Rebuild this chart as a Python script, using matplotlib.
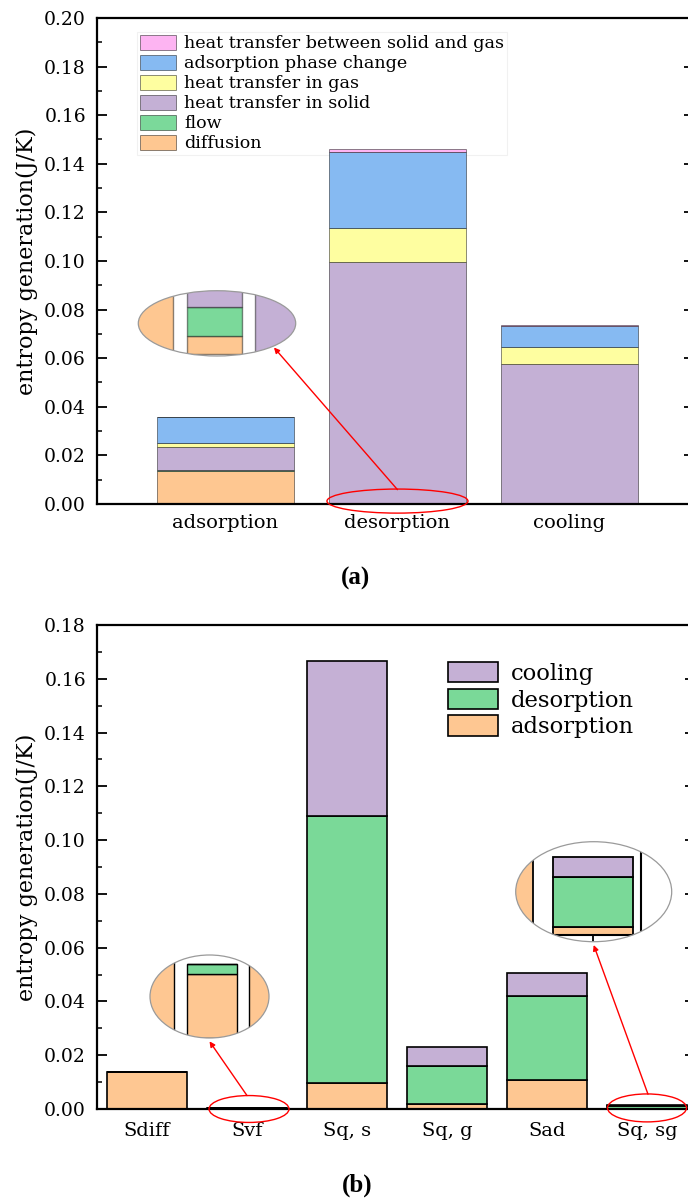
import numpy as np
import matplotlib
matplotlib.use('Agg')
import matplotlib.pyplot as plt
from matplotlib.patches import Ellipse, ConnectionPatch
from matplotlib.ticker import MultipleLocator, FormatStrFormatter

plt.rcParams['font.family'] = ['DejaVu Serif']

# ---- data (J/K) ----
stages = ['adsorption', 'desorption', 'cooling']
components = ['diffusion', 'flow', 'heat transfer in solid', 'heat transfer in gas',
              'adsorption phase change', 'heat transfer between solid and gas']
short_names = ['Sdiff', 'Svf', 'Sq, s', 'Sq, g', 'Sad', 'Sq, sg']

diffusion = [0.0136, 0.000025, 0.0]
flow = [0.00025, 0.00004, 0.0]
heat_solid = [0.0095, 0.0995, 0.0576]
heat_gas = [0.0018, 0.0141, 0.0071]
phase_change = [0.0106, 0.0313, 0.0087]
heat_solid_gas = [0.00017, 0.0010, 0.0004]

comp_colors = ['#FEC791', '#7BD99A', '#C4B0D5', '#FEFEA0', '#86BAF2', '#FDB4F2']
stage_colors = ['#FEC792', '#7AD998', '#C5B0D5']

W, H = 688, 1200
fig = plt.figure(figsize=(W / 100, H / 100), dpi=100)


def px_rect(l, t, r, b):
    return [l / W, 1 - b / H, (r - l) / W, (b - t) / H]


table = np.array([diffusion, flow, heat_solid, heat_gas, phase_change, heat_solid_gas])
EC_A = (0, 0, 0, 0.45)


def draw_a(ax, lw=0.7):
    bottom = np.zeros(len(stages))
    arts = []
    for i, name in enumerate(components):
        bc = ax.bar(np.arange(len(stages)), table[i], 0.8, bottom=bottom, color=comp_colors[i],
                    edgecolor=EC_A, linewidth=lw, label=name)
        arts += list(bc.patches)
        bottom += table[i]
    return arts


def draw_b(ax, lw=1.2):
    bottom = np.zeros(len(short_names))
    arts = []
    for j, name in enumerate(stages):
        bc = ax.bar(np.arange(len(short_names)), table[:, j], 0.8, bottom=bottom,
                    color=stage_colors[j], edgecolor='black', linewidth=lw, label=name)
        arts += list(bc.patches)
        bottom += table[:, j]
    return arts


def style_axes(ax, ymax, major):
    ax.set_ylim(0, ymax)
    ax.yaxis.set_major_locator(MultipleLocator(major))
    ax.yaxis.set_minor_locator(MultipleLocator(major / 2))
    ax.yaxis.set_major_formatter(FormatStrFormatter('%.2f'))
    ax.tick_params(axis='y', which='major', direction='in', length=7, width=1.3,
                   labelsize=13.5, pad=8, right=True)
    ax.tick_params(axis='y', which='minor', direction='in', length=3.5, width=1.1, right=True)
    ax.tick_params(axis='x', length=0, labelsize=14)
    for s in ax.spines.values():
        s.set_linewidth(1.6)


def make_inset(rect, xlim, ylim, draw, lw):
    ax = fig.add_axes(rect)
    ax.set_xlim(*xlim)
    ax.set_ylim(*ylim)
    ax.axis('off')
    clip = Ellipse((0.5, 0.5), 1, 1, transform=ax.transAxes, facecolor='white',
                   edgecolor='none', zorder=0)
    ax.add_patch(clip)
    for a in draw(ax, lw):
        a.set_clip_path(clip)
    ax.add_patch(Ellipse((0.5, 0.5), 1, 1, transform=ax.transAxes, fill=False,
                         edgecolor='#9a9a9a', lw=0.9, clip_on=False, zorder=5))
    return ax, clip


# ---------------- panel (a) ----------------
ax1 = fig.add_axes(px_rect(97, 18, 694, 504))
draw_a(ax1)
ax1.set_xlim(-0.747, 2.724)
style_axes(ax1, 0.20, 0.02)
ax1.set_xticks(range(len(stages)))
ax1.set_xticklabels(stages)
ax1.tick_params(axis='x', pad=7)
ax1.set_ylabel('entropy generation(J/K)', fontsize=16)
ax1.yaxis.set_label_coords(-0.099, 0.5)
h, l = ax1.get_legend_handles_labels()
leg1 = ax1.legend(h[::-1], l[::-1], loc='upper left', bbox_to_anchor=(137 / W, 1 - 32 / H),
                  bbox_transform=fig.transFigure, fontsize=12.6, handlelength=2.05,
                  handleheight=0.95, handletextpad=0.5, labelspacing=0.14, borderpad=0.15,
                  borderaxespad=0, frameon=True, fancybox=False)
leg1.get_frame().set_edgecolor('#eeeeee')
leg1.get_frame().set_linewidth(0.8)
leg1.set_zorder(0.5)  # bars are drawn over the legend box

ax1.add_patch(Ellipse((1.0, 0.0012), 0.82, 0.0099, fill=False, edgecolor='red', lw=1.0,
                      clip_on=False, zorder=6))
ins_a, _ = make_inset(px_rect(138.3, 290.7, 295.7, 356), (-0.104, 2.185),
                      (-0.0000028, 0.0000879), draw_a, 1.0)
fig.add_artist(ConnectionPatch(xyA=(1.0, 0.0059), coordsA=ax1.transData,
                               xyB=(0.862, 0.13), coordsB=ins_a.transAxes,
                               arrowstyle='-|>', color='red', lw=1.0, mutation_scale=8))
fig.text(356 / W, 1 - 578 / H, '(a)', ha='center', va='center', fontsize=18,
         fontweight='bold', family=['Liberation Serif'])

# ---------------- panel (b) ----------------
ax2 = fig.add_axes(px_rect(97, 625, 695, 1109))
draw_b(ax2)
ax2.set_xlim(-0.5, 5.48)
style_axes(ax2, 0.18, 0.02)
ax2.set_xticks(range(len(short_names)))
ax2.set_xticklabels(short_names)
ax2.tick_params(axis='x', pad=9)
ax2.set_ylabel('entropy generation(J/K)', fontsize=16)
ax2.yaxis.set_label_coords(-0.0987, 0.5)
h, l = ax2.get_legend_handles_labels()
ax2.legend(h[::-1], l[::-1], loc='upper left', bbox_to_anchor=(447.7 / W, 1 - 662 / H),
           bbox_transform=fig.transFigure, fontsize=16.3, handlelength=2.2,
           handleheight=1.0, handletextpad=0.6, labelspacing=0.17, borderpad=0,
           borderaxespad=0, frameon=False)

# zoom on Svf
ax2.add_patch(Ellipse((1.02, 0.0), 0.8, 0.0100, fill=False, edgecolor='red', lw=1.0,
                      clip_on=False, zorder=6))
ins_b1, _ = make_inset(px_rect(150, 955, 269, 1038), (0.013, 1.917), (0, 0.000325), draw_b, 1.0)
fig.add_artist(ConnectionPatch(xyA=(1.0, 0.005), coordsA=ax2.transData,
                               xyB=(0.5, -0.04), coordsB=ins_b1.transAxes,
                               arrowstyle='-|>', color='red', lw=1.0, mutation_scale=8))

# zoom on Sq,sg
ax2.add_patch(Ellipse((5.0, 0.0004), 0.79, 0.0104, fill=False, edgecolor='red', lw=1.0,
                      clip_on=False, zorder=6))
ins_b2, clip_b2 = make_inset(px_rect(515.7, 841.7, 671.7, 941.7), (4.232, 5.792),
                             (-0.000134, 0.001866), draw_b, 1.3)
for ln in (ins_b2.axvline(5.48, color='black', lw=1.5),
           ins_b2.plot([5.0, 5.0], [0, -0.00016], color='black', lw=1.3)[0],
           ins_b2.plot([4.2, 5.48], [0, 0], color='black', lw=1.5)[0]):
    ln.set_clip_path(clip_b2)
fig.add_artist(ConnectionPatch(xyA=(5.01, 0.0055), coordsA=ax2.transData,
                               xyB=(0.5, -0.033), coordsB=ins_b2.transAxes,
                               arrowstyle='-|>', color='red', lw=1.0, mutation_scale=8))
fig.text(357 / W, 1 - 1185 / H, '(b)', ha='center', va='center', fontsize=18,
         fontweight='bold', family=['Liberation Serif'])

fig.savefig('out.png', dpi=100)
